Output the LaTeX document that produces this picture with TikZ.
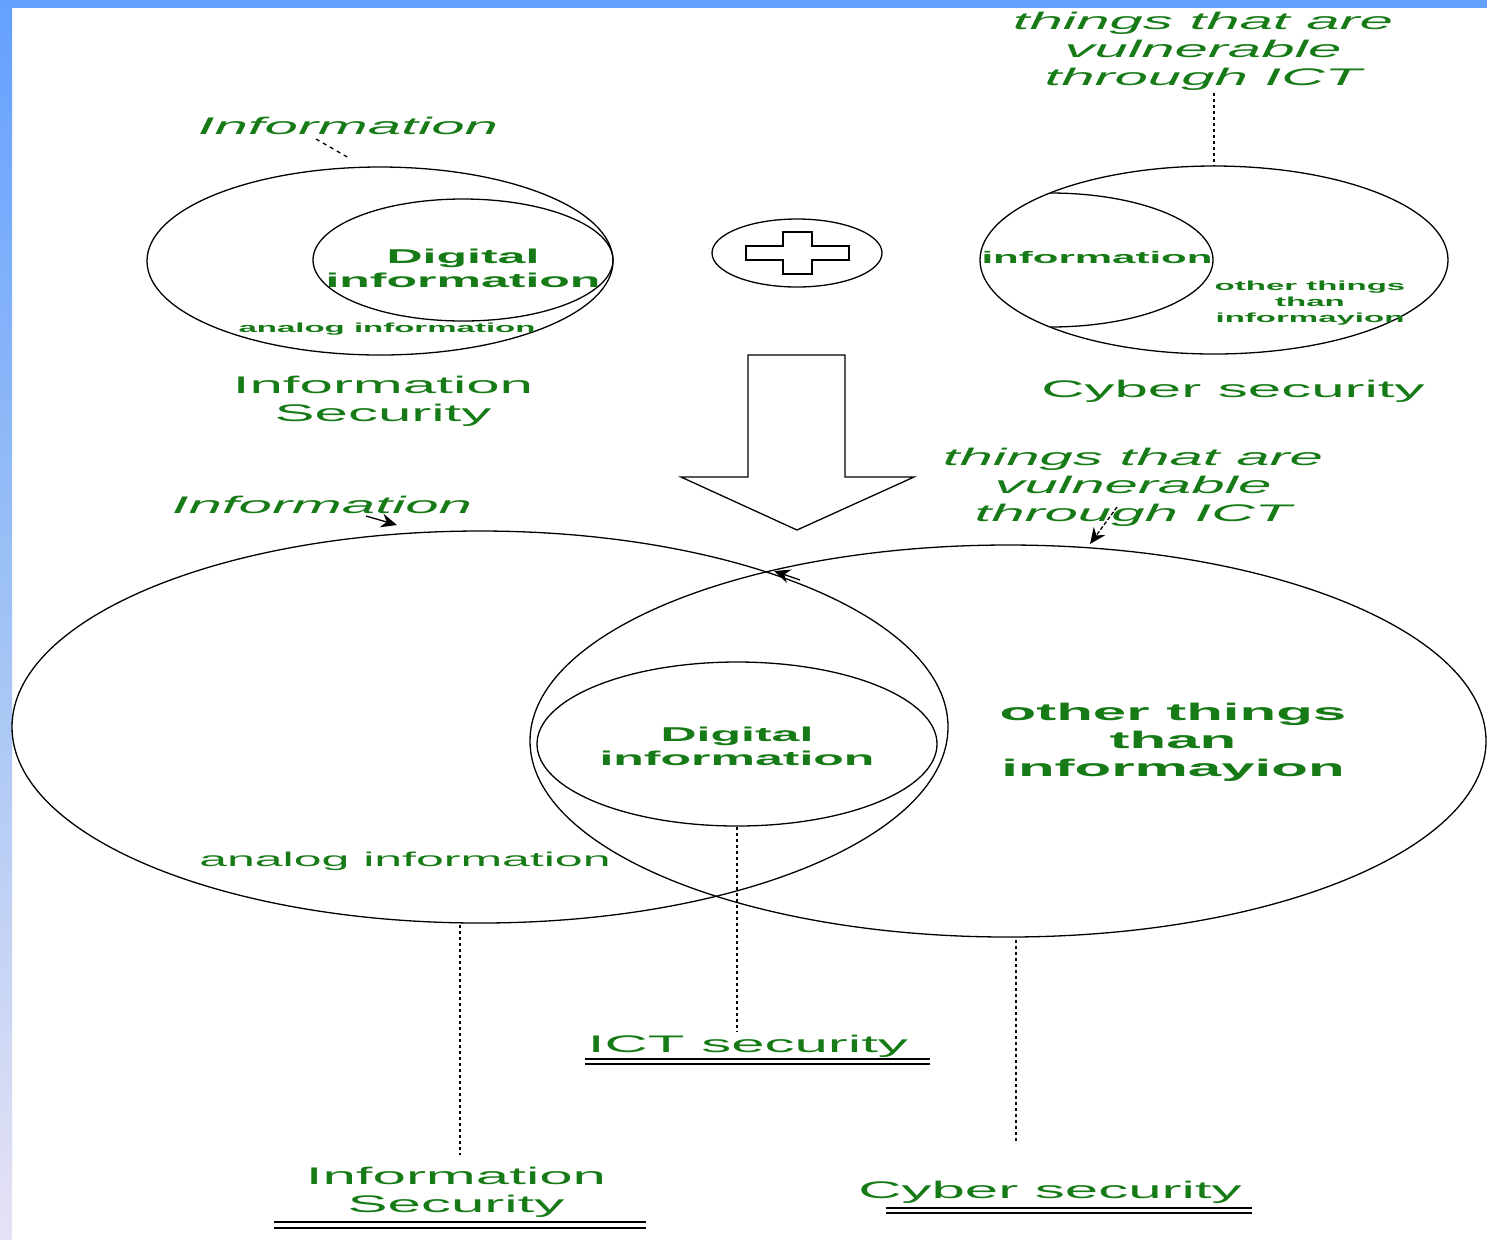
\documentclass[tikz,border=0pt]{standalone}
\usepackage{fontspec}
\newfontfamily\wf{Liberation Sans}[FakeStretch=2.5]
\usetikzlibrary{shapes.geometric,arrows.meta}
\definecolor{grn}{RGB}{22,122,22}
\definecolor{barA}{RGB}{100,160,255}
\definecolor{barM}{RGB}{160,195,245}
\definecolor{barB}{RGB}{230,226,245}
\begin{document}
\begin{tikzpicture}[x=0.5pt,y=-0.5pt,
  ell/.style={draw,ellipse,inner sep=0pt,line width=0.65pt},
  txt/.style={text=grn,align=center,inner sep=1pt},
  big/.style={txt,font=\wf\fontsize{12}{14}\selectfont},
  bigit/.style={txt,font=\wf\itshape\fontsize{12}{14}\selectfont},
  bigbf/.style={txt,font=\wf\bfseries\fontsize{12}{14}\selectfont},
  midbf/.style={txt,font=\wf\bfseries\fontsize{10}{12}\selectfont},
  mid/.style={txt,font=\wf\fontsize{10}{12}\selectfont},
  smbf/.style={txt,font=\wf\bfseries\fontsize{6.6}{8}\selectfont},
  dotl/.style={line width=0.65pt,dash pattern=on 1.5pt off 1.5pt},
  dbl/.style={line width=0.65pt},
  arr/.style={line width=0.65pt,-{Stealth[length=8pt,width=7pt]}},
  line width=0.65pt]
% background and frame
\useasboundingbox (0,0) rectangle (1487,1239);
\fill[white] (0,0) rectangle (1487,1239);
\shade[top color=barA,bottom color=barB,middle color=barM] (0,0) rectangle (12,1239);
\fill[barA] (0,0) rectangle (1487,8);

% ---------- top left: information security ----------
\node[bigit] (infoT) at (348,126) {Information};
\node[ell,minimum width=233pt,minimum height=94pt] (isE) at (380,261) {};
\node[ell,minimum width=150pt,minimum height=61pt] (digE) at (463,260) {};
\node[midbf] (digT) at (463,268) {Digital\\information};
\node[smbf] (anaT) at (387,329) {analog information};
\node[big] (isL) at (383,401) {Information\\Security};
\coordinate (infoTs) at (316,139);
\coordinate (infoTend) at (349,158);
\draw[dash pattern=on 2pt off 2pt] (infoTs) -- (infoTend);

% ---------- plus ----------
\node[ell,minimum width=85pt,minimum height=34pt] (plus) at (797,253) {};
\draw (783,232) -- (812,232) -- (812,246) -- (849,246) -- (849,260) -- (812,260)
  -- (812,274) -- (783,274) -- (783,260) -- (746,260) -- (746,246) -- (783,246) -- cycle;

% ---------- top right: cyber security ----------
\node[bigit] (ctT) at (1203,51) {things that are\\vulnerable\\through ICT};
\node[ell,minimum width=234pt,minimum height=94pt] (cyE) at (1214,260) {};
\draw (1050,193) arc[start angle=90,end angle=-90,x radius=81.5pt,y radius=33.5pt];
\node[txt,font=\wf\bfseries\fontsize{8.4}{10}\selectfont] (infR) at (1097,257) {information};
\node[smbf] (othR) at (1310,303) {other things\\than\\informayion};
\node[big] (csL) at (1233,391) {Cyber security};
\draw[dotl] (ctT.south -| cyE.north) -- (cyE.north);

% ---------- big down arrow ----------
\draw (748,355) -- (845,355) -- (845,477) -- (914,477) -- (797,530) -- (681,477) -- (748,477) -- cycle;

% ---------- bottom combined diagram ----------
\node[bigit] (infoB) at (322,505) {Information};
\node[bigit] (ctB) at (1133,487) {things that are\\vulnerable\\through ICT};
\node[ell,minimum width=468pt,minimum height=196pt] (botL) at (480,727) {};
\node[ell,minimum width=478pt,minimum height=196pt] (botR) at (1008,741) {};
\node[ell,minimum width=200pt,minimum height=82pt] (digB) at (737,744) {};
\node[midbf] (digBT) at (737,746) {Digital\\information};
\node[bigbf] (othB) at (1173,742) {other things\\than\\informayion};
\node[mid] (anaB) at (405,861) {analog information};

\coordinate (infoBa) at (366,516);
\coordinate (infoBb) at (397,525);
\draw[arr] (infoBa) -- (infoBb);
\coordinate (ctBa) at (1117,507);
\coordinate (ctBb) at (1090,544);
\draw[arr,dash pattern=on 2pt off 1pt] (ctBa) -- (ctBb);
\coordinate (xa) at (800,580);
\coordinate (xb) at (774,571);
\draw[arr] (xa) -- (xb);

% ---------- bottom labels ----------
\node[big] (ict) at (748,1046) {ICT security};
\node[big] (isB) at (456,1192) {Information\\Security};
\node[big] (csB) at (1050,1192) {Cyber security};

\coordinate (lTop) at (460,925);
\coordinate (lBot) at (460,1155);
\draw[dotl] (lTop) -- (lBot);
\draw[dotl] (digB.south) -- (digB.south |- ict.north);
\coordinate (rTop) at (1016,940);
\coordinate (rBot) at (1016,1141);
\draw[dotl] (rTop) -- (rBot);

\draw[dbl] (585,1059) -- (930,1059) (585,1064) -- (930,1064);
\draw[dbl] (274,1222) -- (646,1222) (274,1228) -- (646,1228);
\draw[dbl] (886,1208) -- (1252,1208) (886,1213) -- (1252,1213);
\end{tikzpicture}
\end{document}
